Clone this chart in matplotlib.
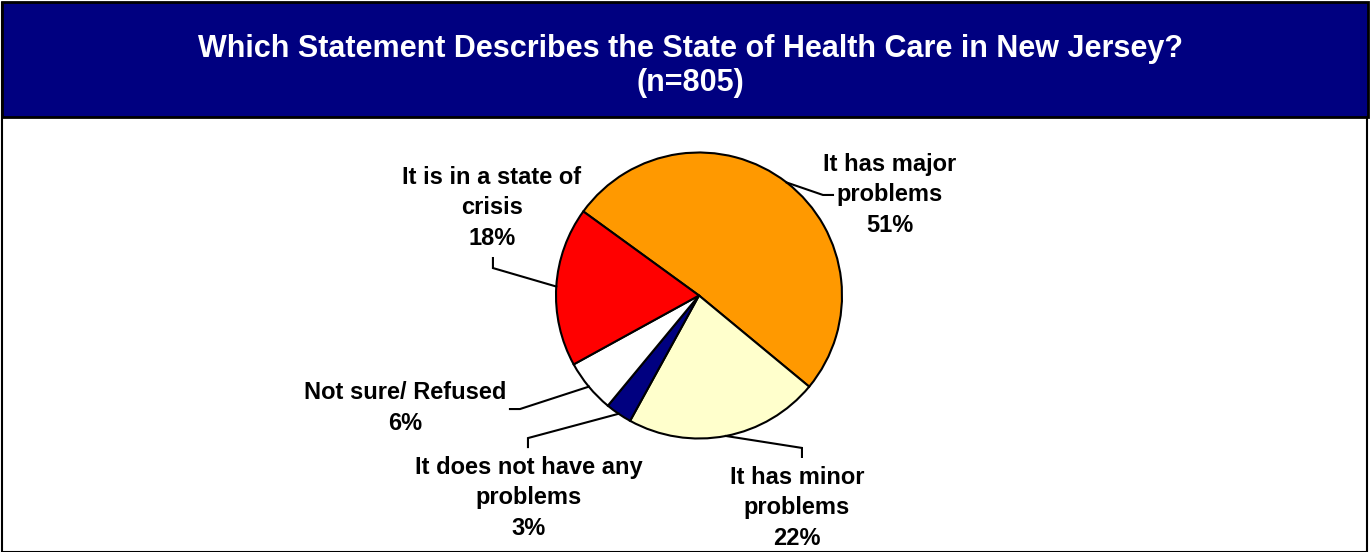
import matplotlib.pyplot as plt
import numpy as np
from matplotlib.patches import Rectangle

plt.rcParams['font.family'] = ['Liberation Sans', 'DejaVu Sans']

# data
categories = ['It has major\nproblems', 'It has minor\nproblems',
              'It does not have any\nproblems', 'Not sure/ Refused',
              'It is in a state of\ncrisis']
values = [51, 22, 3, 6, 18]
colors = ['#FF9900', '#FFFFCC', '#000080', '#FFFFFF', '#FF0000']
title = 'Which Statement Describes the State of Health Care in New Jersey?\n(n=805)'

# label layout, in pie-radius units: (elbow, stub end, text centre)
layout = [
    ((0.867, 0.703), (0.937, 0.703), (1.336, 0.703)),
    ((0.720, -1.066), (0.720, -1.129), (0.685, -1.486)),
    ((-1.196, -0.997), (-1.196, -1.060), (-1.189, -1.416)),
    ((-1.252, -0.794), (-1.322, -0.794), (-2.056, -0.787)),
    ((-1.441, 0.192), (-1.441, 0.262), (-1.448, 0.612)),
]

W, H = 1370, 552
fig = plt.figure(figsize=(W / 100, H / 100), dpi=100)

# frame + title band
fig.add_artist(Rectangle((2 / W, 0.5 / H), (W - 5) / W, (H - 3) / H,
                         transform=fig.transFigure, facecolor='white',
                         edgecolor='black', linewidth=1.5, zorder=0))
fig.add_artist(Rectangle((2 / W, 1 - 117 / H), (W - 4) / W, 115 / H,
                         transform=fig.transFigure, facecolor='#000080',
                         edgecolor='black', linewidth=2, zorder=1))
fig.text(690 / W, 1 - 66 / H, title, ha='center', va='center', color='white',
         fontsize=22, fontweight='bold', linespacing=1.15, zorder=2)

r_px = 143
cx, cy = 699, H - 295.5
ax = fig.add_axes([0, 0, 1, 1])
ax.patch.set_visible(False)
wedges, _ = ax.pie(values, colors=colors, startangle=144, counterclock=False,
                   wedgeprops=dict(edgecolor='black', linewidth=1.5))
ax.set_xlim(-cx / r_px, (W - cx) / r_px)
ax.set_ylim(-cy / r_px, (H - cy) / r_px)
ax.set_aspect('auto')
ax.axis('off')

for w, cat, val, (elbow, stub, txt) in zip(wedges, categories, values, layout):
    ang = np.deg2rad((w.theta1 + w.theta2) / 2)
    x0, y0 = np.cos(ang), np.sin(ang)
    ax.plot([x0, elbow[0], stub[0]], [y0, elbow[1], stub[1]],
            color='black', linewidth=1.5, solid_joinstyle='miter')
    ax.text(txt[0], txt[1], f'{cat}\n{val}%', ha='center', va='center',
            fontsize=17, fontweight='bold', linespacing=1.43)

fig.savefig('out.png', dpi=100)
